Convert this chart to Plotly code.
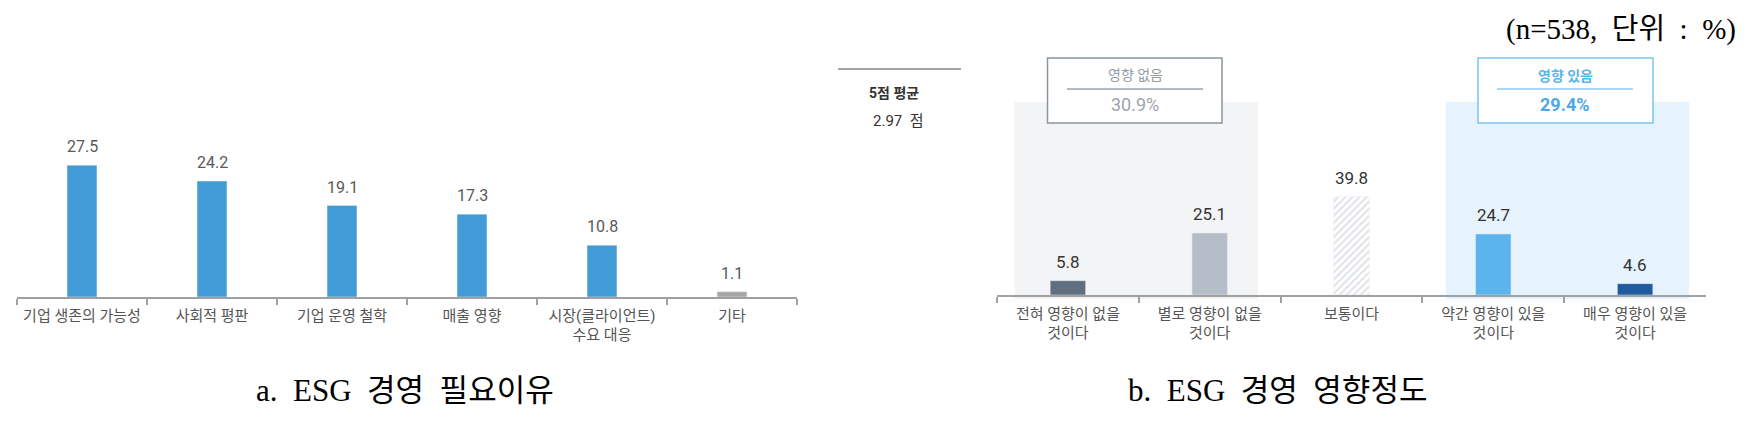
import plotly.graph_objects as go

W, H = 1749, 423

# ---------------- data ----------------
reasons = ["기업 생존의 가능성", "사회적 평판", "기업 운영 철학", "매출 영향",
           "시장(클라이언트)<br>수요 대응", "기타"]
reason_vals = [27.5, 24.2, 19.1, 17.3, 10.8, 1.1]

impact_cats = ["전혀 영향이 없을<br>것이다", "별로 영향이 없을<br>것이다", "보통이다",
               "약간 영향이 있을<br>것이다", "매우 영향이 있을<br>것이다"]
impact_vals = [5.8, 25.1, 39.8, 24.7, 4.6]

no_impact_total = 30.9
impact_total = 29.4
avg_score = 2.97
n_resp = 538

# ---------------- styles ----------------
FONT = "Roboto, Noto Sans CJK KR, sans-serif"
SERIF = "Liberation Serif, Noto Sans CJK KR, serif"
reason_colors = ["#419bd6"] * 5 + ["#a6a6a6"]
impact_colors = ["#5f6f80", "#b5bec8", "#ffffff", "#5bb5ec", "#1f5a9e"]


def px(x):
    return x / W


def py(y):
    return 1 - y / H


fig = go.Figure()

fig.add_trace(go.Bar(x=reasons, y=reason_vals, marker_color=reason_colors,
                     width=0.23, xaxis="x", yaxis="y", hoverinfo="skip"))

normal_idx = [i for i, c in enumerate(impact_cats) if c != "보통이다"]
hatch_idx = [i for i, c in enumerate(impact_cats) if c == "보통이다"]
fig.add_trace(go.Bar(x=[impact_cats[i] for i in normal_idx],
                     y=[impact_vals[i] for i in normal_idx],
                     marker_color=[impact_colors[i] for i in normal_idx],
                     width=0.25, xaxis="x2", yaxis="y2", hoverinfo="skip"))
fig.add_trace(go.Bar(x=[impact_cats[i] for i in hatch_idx],
                     y=[impact_vals[i] for i in hatch_idx],
                     marker=dict(color="#ffffff",
                                 pattern=dict(shape="/", fgcolor="#bcc2c9",
                                              bgcolor="#ffffff", size=5,
                                              solidity=0.35, fillmode="overlay")),
                     width=0.25, xaxis="x2", yaxis="y2", hoverinfo="skip"))

annotations = []
for c, v in zip(reasons, reason_vals):
    annotations.append(dict(x=c, y=v, xref="x", yref="y", text=f"{v}",
                            showarrow=False, xanchor="center", yanchor="bottom", yshift=7,
                            font=dict(size=16, color="#595959", family=FONT)))
for c, v in zip(impact_cats, impact_vals):
    annotations.append(dict(x=c, y=v, xref="x2", yref="y2", text=f"{v}",
                            showarrow=False, xanchor="center", yanchor="bottom", yshift=7,
                            font=dict(size=17, color="#333333", family=FONT)))


def ptext(x, y, text, size, color, family=FONT, xanchor="center"):
    return dict(x=px(x), y=py(y), xref="paper", yref="paper", text=text,
                showarrow=False, xanchor=xanchor, yanchor="middle",
                font=dict(size=size, color=color, family=family))


annotations += [
    ptext(1135, 75, "영향 없음", 14, "#939ba5"),
    ptext(1135, 104, f"{no_impact_total}%", 18, "#9ca4ae"),
    ptext(1565, 76, "<b>영향 있음</b>", 14, "#5ab4ee"),
    ptext(1565, 104, f"<b>{impact_total}%</b>", 18, "#4aa9ea"),
    ptext(894, 93, "<b>5점 평균</b>", 14, "#333333"),
    ptext(899, 121, f"{avg_score}  점", 15, "#333333"),
    ptext(1738, 30, f"(n={n_resp},  단위  :  %)", 29, "#000000", SERIF, xanchor="right"),
    ptext(405, 390, "a.  ESG  경영  필요이유", 31, "#000000", SERIF),
    ptext(1277, 390, "b.  ESG  경영  영향정도", 31, "#000000", SERIF),
]

shapes = [
    dict(type="rect", xref="paper", yref="paper", x0=px(1014.6), x1=px(1258),
         y0=py(299), y1=py(102), fillcolor="#f3f4f6", line=dict(width=0), layer="below"),
    dict(type="rect", xref="paper", yref="paper", x0=px(1446), x1=px(1689),
         y0=py(299), y1=py(102), fillcolor="#e6f2fc", line=dict(width=0), layer="below"),
    dict(type="rect", xref="paper", yref="paper", x0=px(1047.5), x1=px(1222),
         y0=py(123), y1=py(58), fillcolor="#ffffff", line=dict(color="#8c949e", width=1.5),
         layer="below"),
    dict(type="line", xref="paper", yref="paper", x0=px(1067), x1=px(1203),
         y0=py(89), y1=py(89), line=dict(color="#9aa2ac", width=1.5), layer="below"),
    dict(type="rect", xref="paper", yref="paper", x0=px(1478), x1=px(1653),
         y0=py(123), y1=py(58), fillcolor="#ffffff", line=dict(color="#7cc4f2", width=1.5),
         layer="below"),
    dict(type="line", xref="paper", yref="paper", x0=px(1497), x1=px(1633),
         y0=py(89), y1=py(89), line=dict(color="#8ccbf3", width=1.5), layer="below"),
    dict(type="line", xref="paper", yref="paper", x0=px(838), x1=px(961),
         y0=py(69), y1=py(69), line=dict(color="#7d8590", width=1.5), layer="below"),
]

xcommon = dict(type="category", showline=True, linecolor="#a0a0a0", linewidth=1.5,
               ticks="outside", tickson="boundaries", ticklen=6, tickcolor="#a0a0a0",
               tickwidth=1.5, showgrid=False, zeroline=False, ticklabelstandoff=4,
               tickfont=dict(size=15, color="#555555", family=FONT))
ycommon = dict(showgrid=False, zeroline=False, showticklabels=False, showline=False)

fig.update_layout(
    width=W, height=H, autosize=False,
    margin=dict(l=0, r=0, t=0, b=0),
    paper_bgcolor="white", plot_bgcolor="rgba(0,0,0,0)",
    showlegend=False, barmode="overlay",
    font=dict(family=FONT),
    xaxis=dict(**xcommon, domain=[px(17), px(797)], range=[-0.5, 5.5], anchor="y",
               categoryorder="array", categoryarray=reasons),
    yaxis=dict(**ycommon, domain=[py(297), py(100)], range=[0, (297 - 100) / 4.79], anchor="x"),
    xaxis2=dict(**xcommon, domain=[px(997), px(1706)], range=[-0.5, 4.5], anchor="y2",
                categoryorder="array", categoryarray=impact_cats),
    yaxis2=dict(**ycommon, domain=[py(295), py(100)], range=[0, (295 - 100) / 2.47], anchor="x2"),
    annotations=annotations,
    shapes=shapes,
)

fig.write_html("out.html", config={"displayModeBar": False},
               post_script="document.body.style.margin='0';document.body.style.overflow='hidden';")
